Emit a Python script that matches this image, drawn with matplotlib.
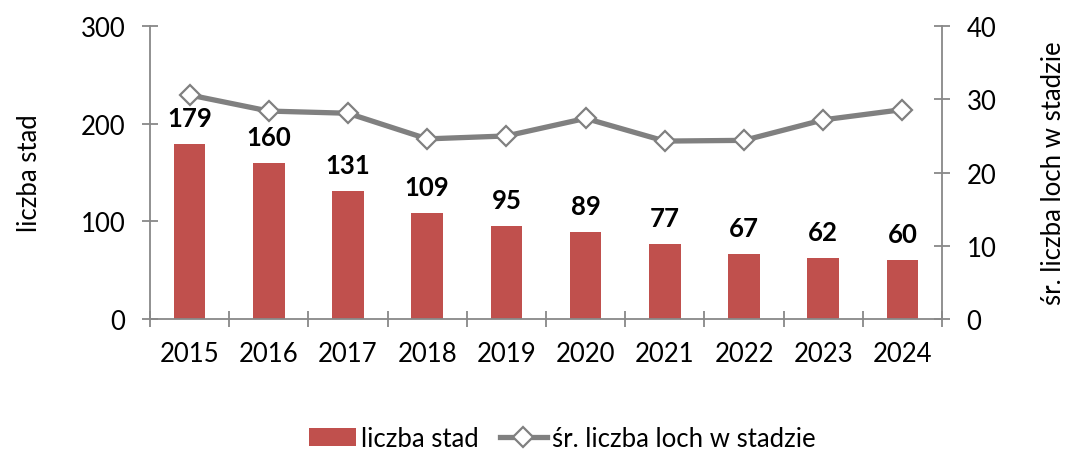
import numpy as np
from matplotlib import pyplot as plt
from matplotlib.ticker import FixedLocator

plt.rcParams['font.family'] = ['Lato', 'DejaVu Sans']

years = ['2015', '2016', '2017', '2018', '2019', '2020', '2021', '2022', '2023', '2024']
herds = [179, 160, 131, 109, 95, 89, 77, 67, 62, 60]
sows_per_herd = [30.6, 28.4, 28.1, 24.6, 25.0, 27.4, 24.3, 24.4, 27.2, 28.6]

bar_color = '#C0504D'
line_color = '#808080'
axis_color = '#888888'
fs = 18.5

fig = plt.figure(figsize=(10.71, 4.52), dpi=100)
ax = fig.add_axes([0.140, 0.292, 0.7396, 0.648])
ax2 = ax.twinx()

x = np.arange(len(years))
bars = ax.bar(x, herds, width=0.4, color=bar_color, label='liczba stad', zorder=2)
for xi, v in zip(x, herds):
    ax.annotate(str(v), (xi, v), xytext=(0, 13), textcoords='offset points',
                ha='center', va='baseline', fontsize=fs, fontweight='bold')

line, = ax2.plot(x, sows_per_herd, color=line_color, lw=3.8, marker='D',
                 markersize=10, markerfacecolor='white', markeredgecolor=line_color,
                 markeredgewidth=1.6, label='śr. liczba loch w stadzie', zorder=3)

ax.set_xlim(-0.5, len(years) - 0.5)
ax.set_ylim(0, 300)
ax2.set_ylim(0, 40)
ax.set_yticks([0, 100, 200, 300])
ax2.set_yticks([0, 10, 20, 30, 40])
ax.set_xticks(x)
ax.set_xticklabels(years)
ax.xaxis.set_minor_locator(FixedLocator(np.arange(-0.5, len(years), 1.0)))

for a in (ax, ax2):
    for s in a.spines.values():
        s.set_color(axis_color)
        s.set_linewidth(1.3)
    a.spines['top'].set_visible(False)
ax.spines['right'].set_visible(False)
ax2.spines['left'].set_visible(False)
ax2.spines['bottom'].set_visible(False)

ax.tick_params(axis='y', direction='inout', length=11.5, width=1.3, color=axis_color,
               labelsize=fs, pad=12)
ax2.tick_params(axis='y', direction='inout', length=11.5, width=1.3, color=axis_color,
                labelsize=fs, pad=12)
ax.tick_params(axis='x', which='major', length=0, labelsize=fs, pad=16)
ax.tick_params(axis='x', which='minor', direction='inout', length=11.5, width=1.3,
               color=axis_color)

ax.set_ylabel('liczba stad', fontsize=fs, labelpad=28)
ax2.set_ylabel('śr. liczba loch w stadzie', fontsize=fs, rotation=90, labelpad=32)

ax.set_zorder(ax2.get_zorder() - 1)
ax.patch.set_visible(False)
ax2.patch.set_visible(False)

fig.legend([bars, line], ['liczba stad', 'śr. liczba loch w stadzie'],
           loc='center', bbox_to_anchor=(0.525, 0.027), ncol=2, frameon=False,
           fontsize=fs, handlelength=1.85, handletextpad=0.2, columnspacing=0.8,
           numpoints=1)

fig.savefig('out.png', dpi=100)
